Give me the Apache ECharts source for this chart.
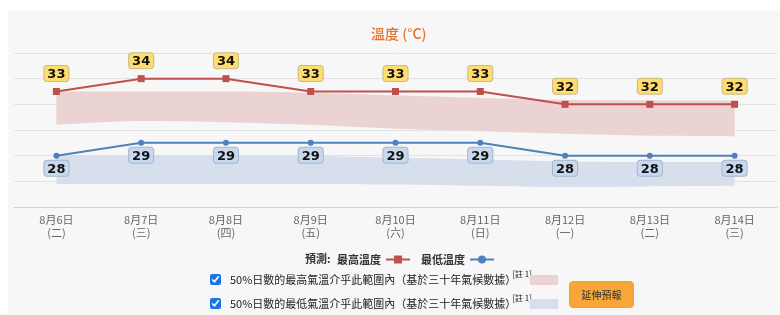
<!DOCTYPE html>
<html>
<head>
<meta charset="utf-8">
<script src="https://cdn.jsdelivr.net/npm/echarts@6/dist/echarts.min.js"></script>
<style>
  html, body { margin: 0; padding: 0; background: #fff; }
  #wrap { position: relative; width: 780px; height: 315px; overflow: hidden; font-family: "Noto Sans CJK TC", "Noto Sans", sans-serif; }
  #panel { position: absolute; left: 8px; top: 10px; width: 772px; height: 305px; background: #f7f7f7; }
  #chart { position: absolute; left: 0; top: 0; width: 780px; height: 315px; }
  .row { position: absolute; left: 210px; height: 16px; font-size: 11px; color: #222; display: flex; align-items: center; white-space: nowrap; }
  .row input { margin: 0 9px 0 0; width: 11px; height: 11px; accent-color: #1a73e8; }
  .row sup { font-size: 8px; vertical-align: top; position: relative; top: -3px; margin-left: -4px; }
  .sw { position: absolute; width: 28px; height: 10px; }
  #btn { position: absolute; left: 569px; top: 281px; width: 65px; height: 27px; background: #f8a637; border: 1px solid #f0a030; border-radius: 4px; box-sizing: border-box; font-size: 10px; color: #333; display: flex; align-items: center; justify-content: center; }
</style>
</head>
<body>
<div id="wrap">
  <div id="panel"></div>
  <div id="chart"></div>
  <div class="row" style="top:271px;"><input type="checkbox" checked><span>50%日數的最高氣溫介乎此範圍內（基於三十年氣候數據）<sup>[註 1]</sup></span></div>
  <div class="row" style="top:295px;"><input type="checkbox" checked><span>50%日數的最低氣溫介乎此範圍內（基於三十年氣候數據）<sup>[註 1]</sup></span></div>
  <div class="sw" style="left:530px; top:275px; background:#ecd3d3;"></div>
  <div class="sw" style="left:530px; top:299px; background:#d6dfeb;"></div>
  <div id="btn">延伸預報</div>
</div>
<script>
const categories = ['8月6日','8月7日','8月8日','8月9日','8月10日','8月11日','8月12日','8月13日','8月14日'];
const weekdays = ['二','三','四','五','六','日','一','二','三'];
const maxTemp = [33, 34, 34, 33, 33, 33, 32, 32, 32];
const minTemp = [28, 29, 29, 29, 29, 29, 28, 28, 28];
const maxBandLow  = [30.4, 30.7, 30.6, 30.4, 30.1, 29.9, 29.7, 29.55, 29.5];
const maxBandHigh = [33.0, 33.0, 33.0, 32.9, 32.7, 32.5, 32.35, 32.3, 32.3];
const minBandLow  = [25.8, 25.8, 25.8, 25.8, 25.75, 25.65, 25.55, 25.6, 25.65];
const minBandHigh = [28.05, 28.05, 28.05, 28.0, 27.85, 27.7, 27.55, 27.5, 27.5];

const diff = (hi, lo) => hi.map((v, i) => +(v - lo[i]).toFixed(2));

const chart = echarts.init(document.getElementById('chart'), null, { renderer: 'canvas' });
const cjk = '"Noto Sans CJK TC", "Noto Sans", sans-serif';

chart.setOption({
  backgroundColor: 'transparent',
  animation: false,
  title: {
    text: '溫度 (°C)',
    left: 366, top: 22,
    textStyle: { color: '#e8702a', fontSize: 14, fontWeight: 500, fontFamily: cjk }
  },
  grid: { left: 14, right: 3, top: 53, bottom: 108 },
  legend: {
    data: ['最高溫度', '最低溫度'],
    left: 332, top: 249,
    align: 'right',
    itemWidth: 24, itemHeight: 10, itemGap: 10,
    textStyle: { fontSize: 11, fontWeight: 'bold', color: '#333', fontFamily: cjk }
  },
  graphic: [{
    type: 'text', left: 305, top: 253,
    style: { text: '預測:', fontSize: 11, fontWeight: 'bold', fill: '#333', fontFamily: cjk }
  }],
  xAxis: {
    type: 'category',
    data: categories,
    boundaryGap: true,
    axisLine: { lineStyle: { color: '#ccd6eb' } },
    axisTick: { show: false },
    axisLabel: {
      margin: 6,
      color: '#666', fontSize: 11, lineHeight: 13, fontFamily: cjk,
      formatter: (v, i) => v + '\n(' + weekdays[i] + ')'
    }
  },
  yAxis: {
    type: 'value', min: 24, max: 36, interval: 2,
    axisLabel: { show: false },
    axisLine: { show: false }, axisTick: { show: false },
    splitLine: { lineStyle: { color: '#e2e2e2' } }
  },
  series: [
    { name: 'maxBase', type: 'line', stack: 'maxBand', data: maxBandLow, symbol: 'none', smooth: 0.3,
      lineStyle: { opacity: 0 }, silent: true, z: 1 },
    { name: 'maxRange', type: 'line', stack: 'maxBand', data: diff(maxBandHigh, maxBandLow), symbol: 'none', smooth: 0.3,
      lineStyle: { opacity: 0 }, areaStyle: { color: '#ecd3d3', opacity: 1 }, silent: true, z: 1 },
    { name: 'minBase', type: 'line', stack: 'minBand', data: minBandLow, symbol: 'none', smooth: 0.3,
      lineStyle: { opacity: 0 }, silent: true, z: 1 },
    { name: 'minRange', type: 'line', stack: 'minBand', data: diff(minBandHigh, minBandLow), symbol: 'none', smooth: 0.3,
      lineStyle: { opacity: 0 }, areaStyle: { color: '#d6dfeb', opacity: 1 }, silent: true, z: 1 },
    { name: '最高溫度', type: 'line', data: maxTemp, z: 5,
      symbol: 'rect', symbolSize: 7,
      itemStyle: { color: '#c0504d' }, lineStyle: { color: '#c0504d', width: 2 },
      label: { show: true, position: 'top', distance: 7,
        fontSize: 13, fontWeight: 'bold', color: '#111', fontFamily: '"DejaVu Sans", sans-serif',
        backgroundColor: '#fedd6e', borderColor: '#c8bb8a', borderWidth: 1, borderRadius: 3, padding: [2, 3, 0, 3] }
    },
    { name: '最低溫度', type: 'line', data: minTemp, z: 5,
      symbol: 'circle', symbolSize: 6,
      itemStyle: { color: '#4f81bd' }, lineStyle: { color: '#4f81bd', width: 2 },
      label: { show: true, position: 'bottom', distance: 2,
        fontSize: 13, fontWeight: 'bold', color: '#111', fontFamily: '"DejaVu Sans", sans-serif',
        backgroundColor: '#c8d8ee', borderColor: '#a6b6cc', borderWidth: 1, borderRadius: 3, padding: [2, 3, 0, 3] }
    }
  ]
});
</script>
</body>
</html>
